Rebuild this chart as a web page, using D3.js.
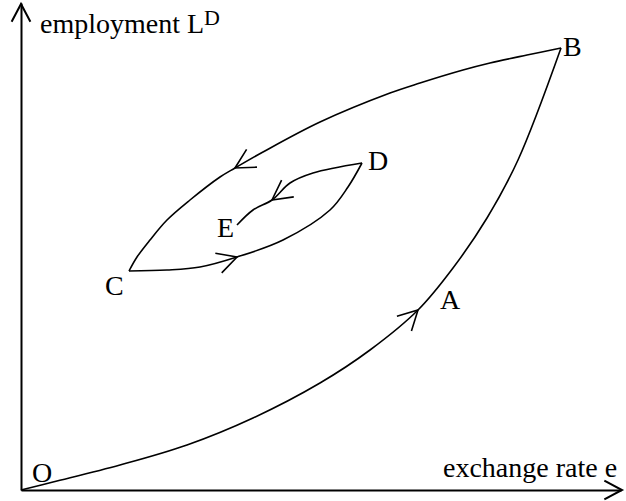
<!DOCTYPE html>
<html>
<head>
<meta charset="utf-8">
<script src="https://cdn.jsdelivr.net/npm/d3@7"></script>
<style>
  body { margin: 0; background: #fff; }
  svg { display: block; }
  text { font-family: "Liberation Serif", "Times New Roman", serif; fill: #000; }
</style>
</head>
<body>
<div id="chart"></div>
<script>
// curve points (exchange rate e, employment L)
const pathOB = [[0,0],[32,8],[99,25],[166,45],[232,72],[299,107],[349,140],[397,180],[432,222],[466,272],[497,330],[540,442]];
const pathBC = [[540,442],[506,435],[469,427],[442,420],[399,407],[369,397],[299,368],[242,338],[214,322],[199,313],[169,290],[146,270],[129,250],[116,233],[108,219]];
const pathCD = [[108,219],[146,220],[179,223],[216,233],[262,250],[309,280],[327,303],[341,327]];
const pathDE = [[341,327],[292,317],[269,307],[251,290],[232,280],[216,265]];

// which point of each path carries a direction arrow
const arrowAt = [[pathOB, 7], [pathBC, 8], [pathCD, 3], [pathDE, 3]];

// point labels
const pointNames = ["O", "A", "B", "C", "D", "E"];
const pointRefs = [pathOB[0], pathOB[7], pathOB[11], pathCD[0], pathCD[7], pathDE[5]];

const xLabel = "exchange rate e";
const yLabel = "employment L";
const ySup = "D";

const width = 626, height = 501;

const svg = d3.select("#chart")
  .append("svg")
    .attr("width", width)
    .attr("height", height);

const x = d3.scaleLinear().domain([0, 600]).range([21, 621]);
const y = d3.scaleLinear().domain([0, 487]).range([490, 3]);

// axes, no ticks
svg.append("g")
    .attr("transform", `translate(0,${y(0)})`)
    .call(d3.axisBottom(x).tickValues([]).tickSizeOuter(0))
    .select(".domain").attr("stroke-width", 2);

svg.append("g")
    .attr("transform", `translate(${x(0)},0)`)
    .call(d3.axisLeft(y).tickValues([]).tickSizeOuter(0))
    .select(".domain").attr("stroke-width", 2);

// axis arrowheads
function axisHead(tx, ty, ang) {
    const len = 20, spread = 28 * Math.PI / 180;
    const pts = [-1, 1].map(s => [tx - len * Math.cos(ang + s * spread), ty - len * Math.sin(ang + s * spread)]);
    svg.append("path")
        .attr("d", `M${pts[0]}L${tx},${ty}L${pts[1]}`)
        .attr("fill", "none")
        .attr("stroke", "#000")
        .attr("stroke-width", 2);
}
axisHead(x(600) + 1, y(0), 0);
axisHead(x(0), y(487) + 1, -Math.PI / 2);

const line = d3.line()
    .x(d => x(d[0]))
    .y(d => y(d[1]))
    .curve(d3.curveCatmullRom.alpha(0.5));

svg.selectAll(".curve")
  .data([pathOB, pathBC, pathCD, pathDE])
  .join("path")
    .attr("class", "curve")
    .attr("d", line)
    .attr("fill", "none")
    .attr("stroke", "#000")
    .attr("stroke-width", 1.6);

// open arrowheads along the curves
arrowAt.forEach(([p, i]) => {
    const tx = x(p[i][0]), ty = y(p[i][1]);
    const dx = x(p[i + 1][0]) - x(p[i - 1][0]);
    const dy = y(p[i + 1][1]) - y(p[i - 1][1]);
    const ang = Math.atan2(dy, dx);
    const len = 22, spread = 28 * Math.PI / 180;
    const pts = [-1, 1].map(s => [tx - len * Math.cos(ang + s * spread), ty - len * Math.sin(ang + s * spread)]);
    svg.append("path")
        .attr("d", `M${pts[0]}L${tx},${ty}L${pts[1]}`)
        .attr("fill", "none")
        .attr("stroke", "#000")
        .attr("stroke-width", 1.6);
});

// label offsets from their points, in pixels
const labelOffset = {O: [11, -8], A: [22, -1], B: [2, 8], C: [-24, 24], D: [6, 7], E: [-20, 12]};

svg.selectAll(".pt")
  .data(pointNames)
  .join("text")
    .attr("class", "pt")
    .attr("x", (d, i) => x(pointRefs[i][0]) + labelOffset[d][0])
    .attr("y", (d, i) => y(pointRefs[i][1]) + labelOffset[d][1])
    .style("font-size", "28px")
    .text(d => d);

svg.append("text")
    .attr("x", 443)
    .attr("y", 477)
    .style("font-size", "28px")
    .text(xLabel);

const yl = svg.append("text")
    .attr("x", 40)
    .attr("y", 33)
    .style("font-size", "28px")
    .text(yLabel);
yl.append("tspan")
    .attr("dy", -8)
    .style("font-size", "22px")
    .text(ySup);
</script>
</body>
</html>
